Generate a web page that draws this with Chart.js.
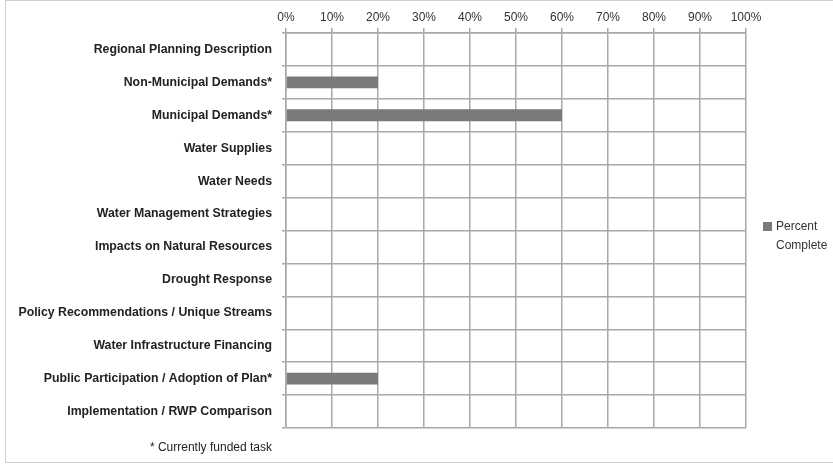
<!DOCTYPE html>
<html>
<head>
<meta charset="utf-8">
<script src="https://cdn.jsdelivr.net/npm/chart.js@4.4.0/dist/chart.umd.min.js"></script>
<style>
    body { margin: 0; background: #fff; }
    .wrap { position: relative; width: 833px; height: 464px; }
    .frame { position: absolute; left: 5px; top: 0; width: 840px; height: 461px; border: 1px solid #d0d0d0; }
    #legend { position: absolute; left: 763px; top: 217px; display: flex; align-items: flex-start; font: 12px "Liberation Sans", sans-serif; color: #333; line-height: 19px; }
    #legend .box { flex: none; width: 9px; height: 9px; margin: 5px 4px 0 0; }
    #legend .txt { width: 60px; }
    .note { position: absolute; right: 561px; top: 440px; font: 12px "Liberation Sans", sans-serif; color: #222; }
</style>
</head>
<body>
<div class="wrap">
    <div class="frame"></div>
    <canvas id="chart" width="833" height="464"></canvas>
    <div id="legend"></div>
    <div class="note">* Currently funded task</div>
</div>
<script>
const tasks = [
    'Regional Planning Description',
    'Non-Municipal Demands*',
    'Municipal Demands*',
    'Water Supplies',
    'Water Needs',
    'Water Management Strategies',
    'Impacts on Natural Resources',
    'Drought Response',
    'Policy Recommendations / Unique Streams',
    'Water Infrastructure Financing',
    'Public Participation / Adoption of Plan*',
    'Implementation / RWP Comparison'
];
const percentComplete = [0, 20, 60, 0, 0, 0, 0, 0, 0, 0, 20, 0];
const seriesName = 'Percent Complete';
const barColor = '#7a7a7a';
const gridColor = '#a8a8a8';

const legend = document.getElementById('legend');
legend.innerHTML = `<span class="box" style="background:${barColor}"></span><span class="txt">${seriesName}</span>`;

const ctx = document.querySelector('#chart').getContext('2d');
const myChart = new Chart(ctx, {
    type: 'bar',
    data: {
        labels: tasks,
        datasets: [{
            label: seriesName,
            data: percentComplete,
            backgroundColor: barColor,
            barPercentage: 0.36,
            categoryPercentage: 1
        }]
    },
    options: {
        indexAxis: 'y',
        responsive: false,
        animation: false,
        layout: { padding: { left: 0, right: 87, top: 0, bottom: 36 } },
        plugins: {
            legend: { display: false },
            tooltip: { enabled: false }
        },
        scales: {
            x: {
                position: 'top',
                min: 0,
                max: 100,
                afterFit: (scale) => { scale.height = 33; },
                ticks: {
                    stepSize: 10,
                    padding: 3,
                    color: '#333',
                    font: { family: 'Liberation Sans', size: 12 },
                    callback: (v) => v + '%'
                },
                grid: { color: gridColor, lineWidth: 1.5, tickLength: 5 },
                border: { color: gridColor, width: 1.5 }
            },
            y: {
                afterFit: (scale) => { scale.width = 286; },
                ticks: {
                    padding: 10,
                    color: '#222',
                    font: { family: 'Liberation Sans', size: 12.3, weight: 'bold' }
                },
                grid: { color: gridColor, lineWidth: 1.5, tickLength: 4, offset: true },
                border: { color: gridColor, width: 1.5 }
            }
        }
    }
});
</script>
</body>
</html>
